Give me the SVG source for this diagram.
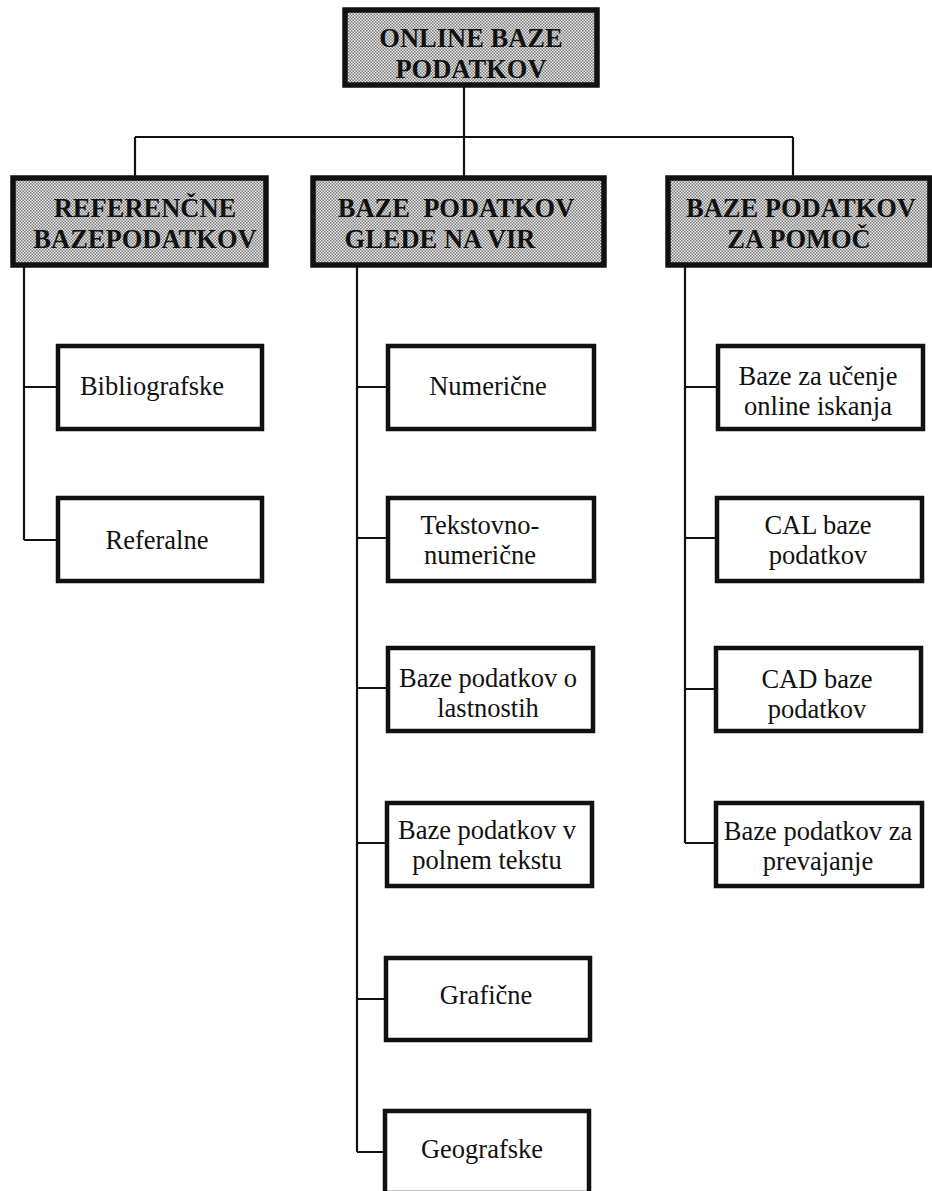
<svg xmlns="http://www.w3.org/2000/svg" width="932" height="1191" viewBox="0 0 932 1191">
<style>
.hdr{fill:url(#dots);stroke:#111;stroke-width:5.5}
.box{fill:#fff;stroke:#111;stroke-width:4.5}
.ht{font-family:"Liberation Serif","Times New Roman",serif;font-weight:bold;font-size:26.5px;fill:#111;text-anchor:middle}
.ct{font-family:"Liberation Serif","Times New Roman",serif;font-size:26.5px;fill:#111;text-anchor:middle}
.ln{fill:none;stroke:#111;stroke-width:2.2}
</style>
<defs>
<pattern id="dots" width="3" height="3" patternUnits="userSpaceOnUse">
<rect width="3" height="3" fill="#ececec"/>
<rect x="0" y="0" width="1.5" height="1.5" fill="#7a7a7a"/>
<rect x="1.5" y="1.5" width="1.5" height="1.5" fill="#7a7a7a"/>
</pattern>
</defs>
<rect width="932" height="1191" fill="#fff"/>
<g id="connectors">
<path class="ln" d="M464 86V137M135 137H793M135 137V177M464 137V177M793 137V177"/>
<path class="ln" d="M24 265V540M24 387H58M24 540H58"/>
<path class="ln" d="M357 266V1152M357 387H388M357 538H388M357 688H388M357 843H388M357 999H388M357 1152H388"/>
<path class="ln" d="M685 266V843M685 387H717M685 538H717M685 689H717M685 843H717"/>
</g>
<g id="root">
<rect class="hdr" x="345" y="10" width="252" height="75"/>
<text class="ht" x="471" y="47">ONLINE BAZE</text>
<text class="ht" x="471" y="78">PODATKOV</text>
</g>
<g id="referencne">
<rect class="hdr" x="13" y="178" width="253" height="87"/>
<text class="ht" x="145" y="217">REFERENČNE</text>
<text class="ht" x="145" y="248">BAZEPODATKOV</text>
</g>
<g id="glede-na-vir">
<rect class="hdr" x="313" y="178" width="291" height="87"/>
<text class="ht" x="456" y="217" xml:space="preserve">BAZE  PODATKOV</text>
<text class="ht" x="440" y="248">GLEDE NA VIR</text>
</g>
<g id="za-pomoc">
<rect class="hdr" x="668" y="178" width="262" height="87"/>
<text class="ht" x="801" y="217">BAZE PODATKOV</text>
<text class="ht" x="799" y="248">ZA POMOČ</text>
</g>
<g id="bibliografske">
<rect class="box" x="58" y="346" width="204" height="83"/>
<text class="ct" x="152" y="395">Bibliografske</text>
</g>
<g id="referalne">
<rect class="box" x="58" y="498" width="204" height="83"/>
<text class="ct" x="157" y="549">Referalne</text>
</g>
<g id="numericne">
<rect class="box" x="388" y="346" width="206" height="83"/>
<text class="ct" x="488" y="395">Numerične</text>
</g>
<g id="tekstovno-numericne">
<rect class="box" x="388" y="498" width="206" height="83"/>
<text class="ct" x="480" y="534">Tekstovno-</text>
<text class="ct" x="480" y="564">numerične</text>
</g>
<g id="lastnostih">
<rect class="box" x="388" y="648" width="205" height="83"/>
<text class="ct" x="488" y="687">Baze podatkov o</text>
<text class="ct" x="488" y="717">lastnostih</text>
</g>
<g id="polnem-tekstu">
<rect class="box" x="387" y="803" width="205" height="83"/>
<text class="ct" x="487" y="839">Baze podatkov v</text>
<text class="ct" x="487" y="869">polnem tekstu</text>
</g>
<g id="graficne">
<rect class="box" x="386" y="958" width="204" height="82"/>
<text class="ct" x="486" y="1004">Grafične</text>
</g>
<g id="geografske">
<rect class="box" x="385" y="1111" width="204" height="82"/>
<text class="ct" x="482" y="1158">Geografske</text>
</g>
<g id="ucenje">
<rect class="box" x="718" y="346" width="205" height="83"/>
<text class="ct" x="818" y="385">Baze za učenje</text>
<text class="ct" x="818" y="415">online iskanja</text>
</g>
<g id="cal">
<rect class="box" x="717" y="498" width="205" height="83"/>
<text class="ct" x="818" y="534">CAL baze</text>
<text class="ct" x="818" y="564">podatkov</text>
</g>
<g id="cad">
<rect class="box" x="716" y="648" width="205" height="83"/>
<text class="ct" x="817" y="688">CAD baze</text>
<text class="ct" x="817" y="718">podatkov</text>
</g>
<g id="prevajanje">
<rect class="box" x="716" y="803" width="206" height="83"/>
<text class="ct" x="818" y="840">Baze podatkov za</text>
<text class="ct" x="818" y="870">prevajanje</text>
</g>
</svg>
